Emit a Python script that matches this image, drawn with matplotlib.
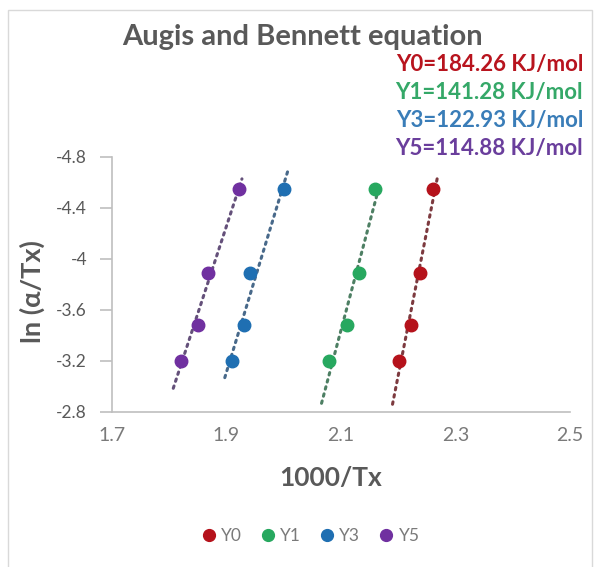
import numpy as np
import matplotlib
matplotlib.use("Agg")
import matplotlib.pyplot as plt
import matplotlib.patches as patches
from matplotlib.lines import Line2D

plt.rcParams["font.family"] = ["Lato", "DejaVu Sans"]

# data: x = 1000/Tx, y = ln(alpha/Tx)
series = ["Y0", "Y1", "Y3", "Y5"]
energies = ["184.26", "141.28", "122.93", "114.88"]
y_vals = [-3.20, -3.48, -3.885, -4.545]
x_y0 = [2.201, 2.222, 2.238, 2.261]
x_y1 = [2.079, 2.111, 2.131, 2.159]
x_y3 = [1.909, 1.931, 1.941, 2.000]
x_y5 = [1.820, 1.851, 1.868, 1.921]
# trendline forecast extent (x from/to)
trend_lo = [2.190, 2.066, 1.897, 1.807]
trend_hi = [2.269, 2.165, 2.008, 1.927]

colors = ["#B5121B", "#27A85F", "#1F6FB2", "#7030A0"]
text_colors = ["#B8141E", "#35A868", "#3A7DB8", "#6A3E9C"]
trend_colors = ["#7d3a3f", "#4d7f63", "#48698a", "#64507a"]
gray = "#595959"

W, H = 599, 567
fig = plt.figure(figsize=(W / 100, H / 100), dpi=100)
fig.patches.append(patches.Rectangle((8 / W, -0.01), 584 / W, 1 - 10 / H + 0.01,
                                     transform=fig.transFigure, fill=False,
                                     edgecolor="#d9d9d9", linewidth=1.0))

ax = fig.add_axes([112 / W, 1 - 411.7 / H, 458 / W, 255 / H])

xs = [x_y0, x_y1, x_y3, x_y5]
for i, name in enumerate(series):
    x = np.array(xs[i])
    y = np.array(y_vals)
    k, b = np.polyfit(x, y, 1)
    tx = np.array([trend_lo[i], trend_hi[i]])
    ax.plot(tx, k * tx + b, linestyle=(0, (0.8, 1.6)), dash_capstyle="round",
            color=trend_colors[i], linewidth=2.2, zorder=2)
    ax.plot(x, y, "o", color=colors[i], markersize=9, zorder=3, label=name)

ax.set_xlim(1.7, 2.5)
ax.set_ylim(-2.8, -4.8)
ax.set_xticks([1.7, 1.9, 2.1, 2.3, 2.5])
ax.set_yticks([-4.8, -4.4, -4.0, -3.6, -3.2, -2.8])
ax.set_yticklabels(["-4.8", "-4.4", "-4", "-3.6", "-3.2", "-2.8"])
for s in ["top", "right"]:
    ax.spines[s].set_visible(False)
for s in ["left", "bottom"]:
    ax.spines[s].set_color("#bfbfbf")
    ax.spines[s].set_linewidth(1.2)
ax.tick_params(axis="y", length=9, width=1.2, color="#bfbfbf", labelcolor=gray,
               labelsize=12.5, pad=9)
ax.tick_params(axis="x", length=0, labelcolor="#7a7a7a", labelsize=14, pad=11)

ax.set_xlabel("1000/Tx", fontsize=19, fontweight="bold", color=gray, va="center")
ax.xaxis.set_label_coords(0.478, -0.26)
ax.set_ylabel("ln (α/Tx)", fontsize=19.5, fontweight="bold", color=gray, va="center")
ax.yaxis.set_label_coords(-0.175, 0.473)

fig.text(0.505, 1 - 37 / H, "Augis and Bennett equation", ha="center", va="center",
         fontsize=21, fontweight="bold", color=gray)
for i, name in enumerate(series):
    fig.text(583 / W, 1 - (65 + 28 * i) / H, f"{name}={energies[i]} KJ/mol",
             ha="right", va="center", fontsize=16, fontweight="bold",
             color=text_colors[i])

handles = [Line2D([], [], marker="o", linestyle="", color=c, markersize=8.5) for c in colors]
fig.legend(handles, series, loc="center", bbox_to_anchor=(309 / W, 1 - 536 / H),
           ncol=4, frameon=False, fontsize=12.5, handletextpad=0.1,
           columnspacing=0.9, handlelength=1.2, labelcolor="#7a7a7a")

fig.savefig("out.png", dpi=100)
